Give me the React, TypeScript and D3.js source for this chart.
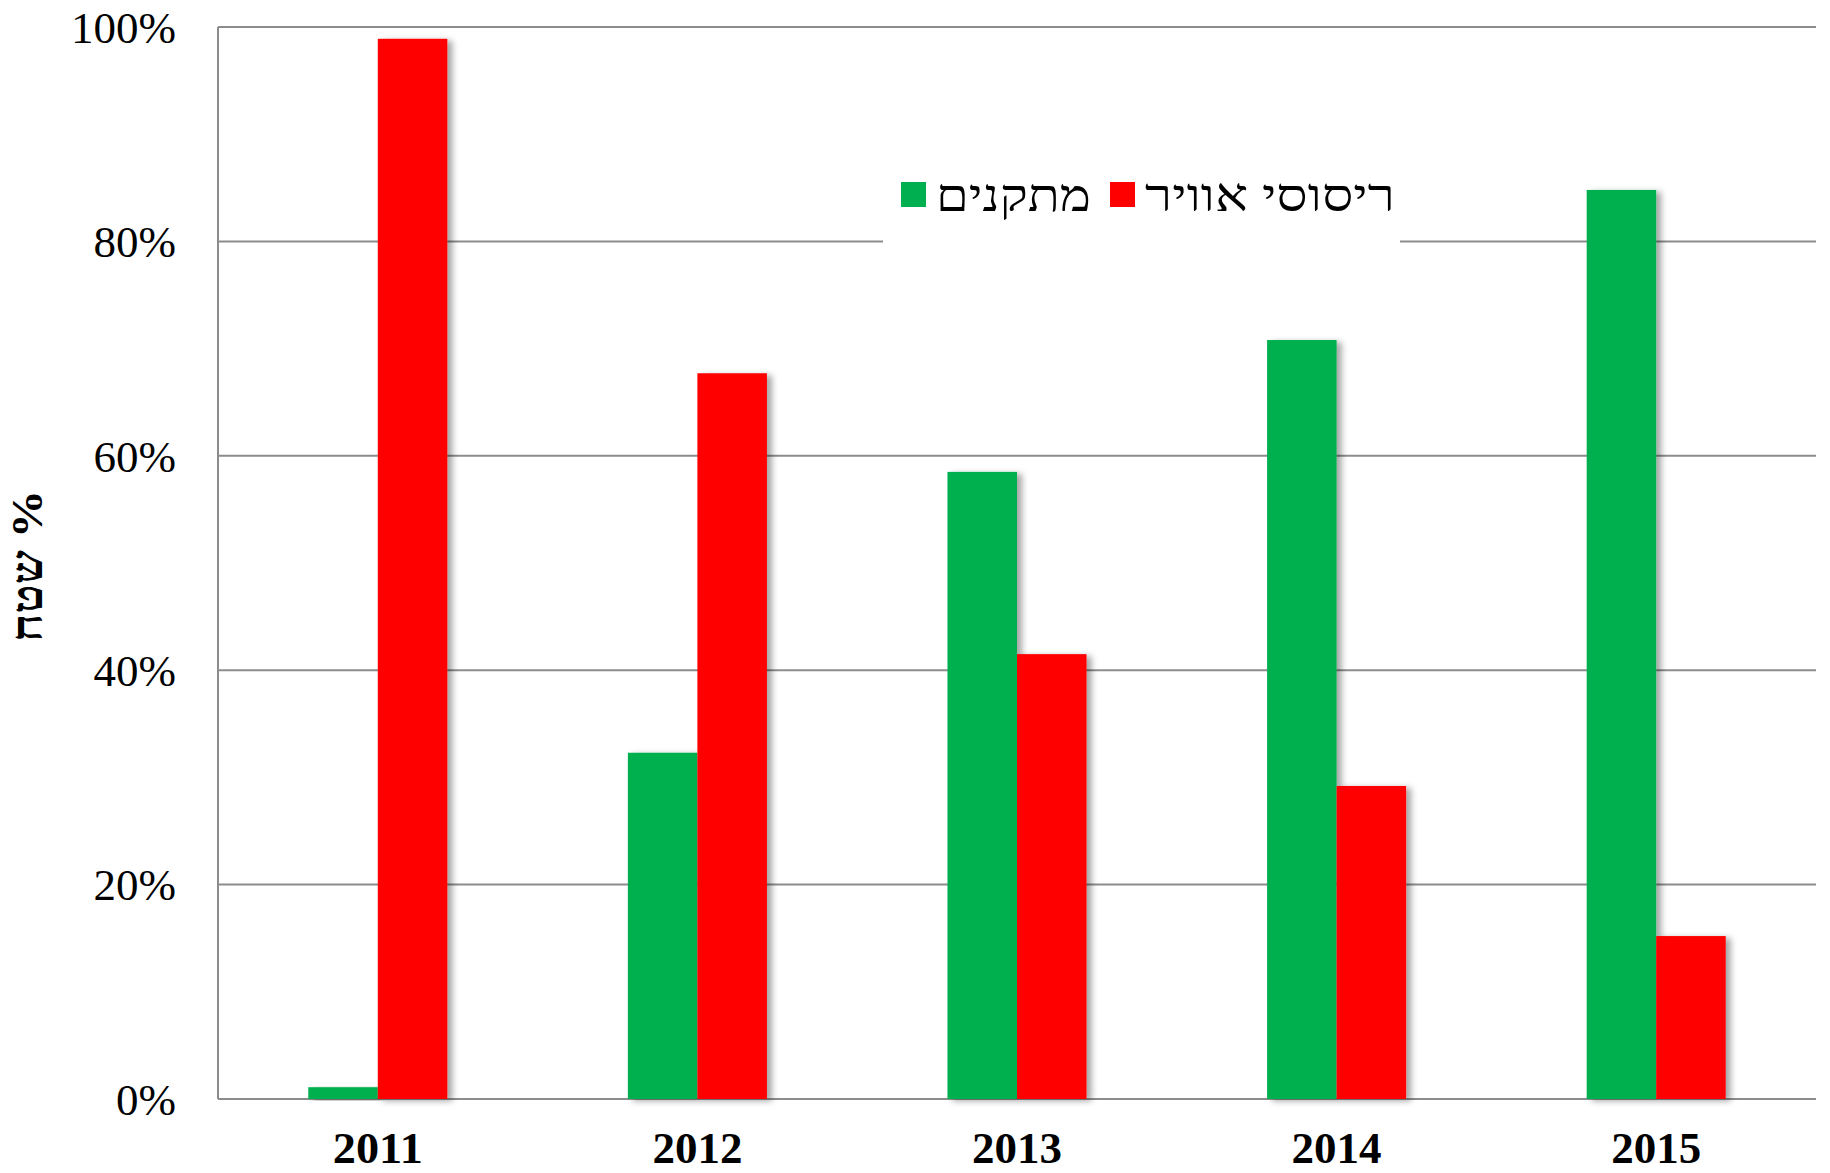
import React, { useEffect, useRef } from "react"
import * as d3 from "d3"

const years = ["2011", "2012", "2013", "2014", "2015"]
const seriesNames = ["מתקנים", "ריסוסי אוויר"]
const seriesColors = ["#00b050", "#ff0000"]
const facilities = [1.1, 32.3, 58.5, 70.8, 84.8]
const airSpraying = [98.9, 67.7, 41.5, 29.2, 15.2]
const yTicks = [0, 20, 40, 60, 80, 100]
const yTitle = "שטח %"

function App() {
  const svgRef = useRef<SVGSVGElement>(null)

  useEffect(() => {
    const W = 1830
    const H = 1173
    const svg = d3.select(svgRef.current).attr("width", W).attr("height", H)
    svg.selectAll("*").remove()

    const M = { left: 218, right: 1816, top: 27, bottom: 1099 }

    const x0 = d3.scaleBand().domain(years).range([M.left, M.right]).padding(0)
    const groupW = x0.bandwidth() * 0.435
    const x1 = d3.scaleBand().domain(seriesNames).range([0, groupW]).padding(0)
    const y = d3.scaleLinear().domain([0, 100]).range([M.bottom, M.top])

    // shadow like the excel bars
    const defs = svg.append("defs")
    const f = defs.append("filter").attr("id", "barShadow")
      .attr("x", "-20%").attr("y", "-5%").attr("width", "160%").attr("height", "115%")
    f.append("feDropShadow")
      .attr("dx", 5).attr("dy", 2).attr("stdDeviation", 3)
      .attr("flood-color", "#000").attr("flood-opacity", 0.35)

    // gridlines
    svg.append("g").selectAll("line")
      .data(yTicks)
      .enter().append("line")
        .attr("x1", M.left).attr("x2", M.right)
        .attr("y1", d => y(d)).attr("y2", d => y(d))
        .attr("stroke", "#8c8c8c").attr("stroke-width", 2)

    svg.append("line")
      .attr("x1", M.left).attr("x2", M.left)
      .attr("y1", M.top).attr("y2", M.bottom)
      .attr("stroke", "#8c8c8c").attr("stroke-width", 2)

    // y tick labels
    svg.append("g").selectAll("text")
      .data(yTicks)
      .enter().append("text")
        .attr("x", 176)
        .attr("y", d => y(d))
        .attr("dy", "0.35em")
        .attr("text-anchor", "end")
        .style("font-family", "'Liberation Serif', serif")
        .style("font-size", "45px")
        .text(d => d + "%")

    // legend box (hides the gridline behind it)
    const lg = svg.append("g")
    lg.append("rect").attr("x", 883).attr("y", 150).attr("width", 517).attr("height", 100).attr("fill", "#fff")
    const legendItems = [
      { name: seriesNames[0], color: seriesColors[0], sx: 901, len: 155 },
      { name: seriesNames[1], color: seriesColors[1], sx: 1110, len: 250 },
    ]
    legendItems.forEach(it => {
      lg.append("rect").attr("x", it.sx).attr("y", 182).attr("width", 25).attr("height", 25).attr("fill", it.color)
      lg.append("text")
        .attr("x", it.sx + 35).attr("y", 195).attr("dy", "0.35em")
        .attr("textLength", it.len)
        .attr("lengthAdjust", "spacingAndGlyphs")
        .style("font-family", "'Liberation Serif', 'DejaVu Serif', serif")
        .style("font-size", "46px")
        .text(it.name)
    })

    // bars
    const rows = years.map((yr, i) => ({ year: yr, vals: [facilities[i], airSpraying[i]] }))
    const groups = svg.append("g").selectAll("g")
      .data(rows)
      .enter().append("g")
        .attr("transform", d => `translate(${x0(d.year)! + (x0.bandwidth() - groupW) / 2},0)`)
    groups.selectAll("rect")
      .data(d => d.vals.map((v, j) => ({ v, j })))
      .enter().append("rect")
        .attr("x", d => x1(seriesNames[d.j])!)
        .attr("width", x1.bandwidth())
        .attr("y", d => y(d.v))
        .attr("height", d => y(0) - y(d.v))
        .attr("fill", d => seriesColors[d.j])
        .attr("filter", "url(#barShadow)")

    // x labels
    svg.append("g").selectAll("text")
      .data(years)
      .enter().append("text")
        .attr("x", d => x0(d)! + x0.bandwidth() / 2)
        .attr("y", 1163)
        .attr("text-anchor", "middle")
        .attr("textLength", 90)
        .attr("lengthAdjust", "spacingAndGlyphs")
        .style("font-family", "'Liberation Serif', serif")
        .style("font-weight", "bold")
        .style("font-size", "44px")
        .text(d => d)

    // y title
    svg.append("text")
      .attr("transform", `translate(42,566) rotate(-90)`)
      .attr("text-anchor", "middle")
      .attr("textLength", 152)
      .attr("lengthAdjust", "spacingAndGlyphs")
      .style("font-family", "'Liberation Serif', 'DejaVu Serif', serif")
      .style("font-weight", "bold")
      .style("font-size", "44px")
      .text(yTitle)
  }, [])

  return (
    <svg ref={svgRef} style={{ position: "absolute", left: 0, top: 0, background: "#fff" }}></svg>
  )
}

export default App
